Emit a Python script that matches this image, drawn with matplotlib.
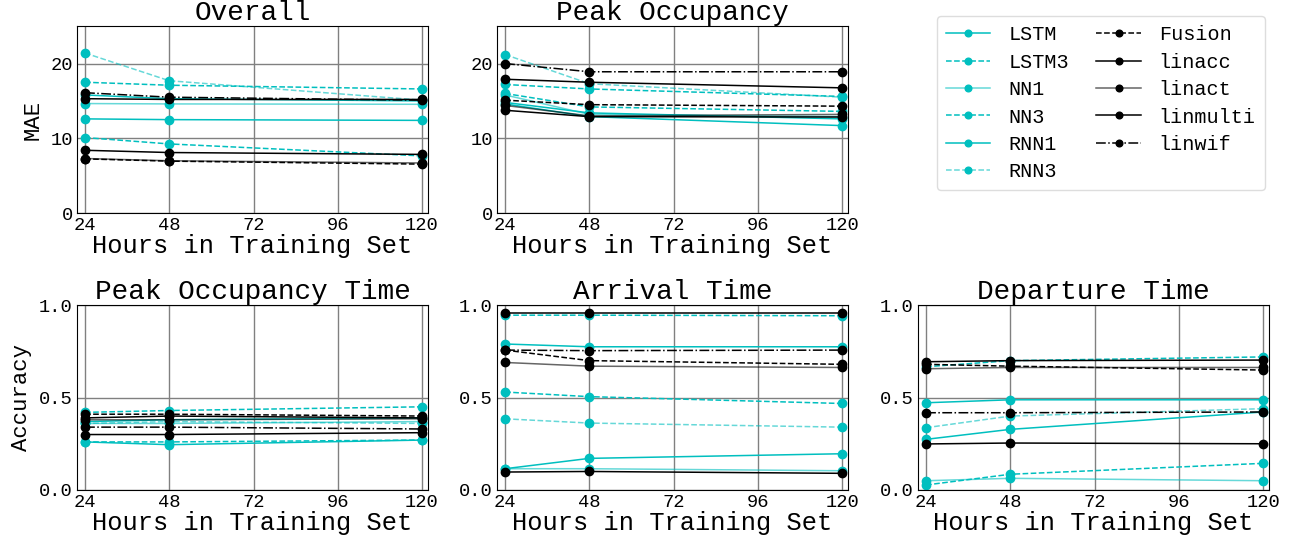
import matplotlib
matplotlib.use("Agg")
import matplotlib.pyplot as plt

plt.rcParams['font.family'] = ['Liberation Mono', 'DejaVu Sans Mono']

hours = [24, 48, 120]
series = ["LSTM", "LSTM3", "NN1", "NN3", "RNN1", "RNN3",
          "Fusion", "linacc", "linact", "linmulti", "linwif"]

# values per panel, one list per series (same order as `series`)
overall = [
    [15.8, 15.3, 15.0], [17.5, 17.1, 16.6], [14.65, 14.6, 14.55],
    [10.1, 9.25, 7.65], [12.6, 12.5, 12.4], [21.4, 17.7, 15.1],
    [7.25, 6.95, 6.55], [15.3, 15.2, 15.2], [7.3, 7.0, 6.7],
    [8.4, 8.1, 7.85], [16.1, 15.5, 15.1],
]
peak_occ = [
    [14.8, 13.4, 12.6], [17.2, 16.6, 15.6], [15.8, 13.2, 12.9],
    [16.0, 14.2, 13.6], [14.6, 12.9, 11.7], [21.2, 17.3, 15.5],
    [15.1, 14.5, 14.3], [17.9, 17.5, 16.75], [14.4, 13.0, 13.2],
    [13.75, 12.9, 12.85], [20.0, 18.9, 18.9],
]
peak_time = [
    [0.37, 0.38, 0.39], [0.42, 0.43, 0.45], [0.36, 0.36, 0.37],
    [0.26, 0.26, 0.27], [0.26, 0.245, 0.27], [0.36, 0.37, 0.36],
    [0.41, 0.41, 0.40], [0.39, 0.40, 0.39], [0.38, 0.38, 0.385],
    [0.30, 0.30, 0.31], [0.34, 0.34, 0.33],
]
arrival = [
    [0.79, 0.775, 0.775], [0.946, 0.946, 0.943], [0.115, 0.115, 0.104],
    [0.53, 0.505, 0.468], [0.115, 0.171, 0.196], [0.385, 0.362, 0.34],
    [0.757, 0.70, 0.68], [0.96, 0.96, 0.96], [0.69, 0.67, 0.663],
    [0.097, 0.10, 0.09], [0.757, 0.754, 0.757],
]
departure = [
    [0.472, 0.488, 0.488], [0.667, 0.70, 0.72], [0.05, 0.063, 0.05],
    [0.027, 0.085, 0.144], [0.274, 0.328, 0.422], [0.337, 0.40, 0.44],
    [0.68, 0.67, 0.649], [0.694, 0.70, 0.703], [0.656, 0.663, 0.663],
    [0.249, 0.254, 0.25], [0.418, 0.418, 0.422],
]

CY = (0.0, 0.75, 0.75)
styles = {
    "LSTM": (CY, 1.0, "-"), "LSTM3": (CY, 1.0, "--"), "NN1": (CY, 0.6, "-"),
    "NN3": (CY, 1.0, "--"), "RNN1": (CY, 1.0, "-"), "RNN3": (CY, 0.6, "--"),
    "Fusion": ((0, 0, 0), 1.0, "--"), "linacc": ((0, 0, 0), 1.0, "-"),
    "linact": ((0, 0, 0), 0.6, "-"), "linmulti": ((0, 0, 0), 1.0, "-"),
    "linwif": ((0, 0, 0), 1.0, "-."),
}

fig = plt.figure(figsize=(13.07, 5.45), dpi=100)
w, h_top, h_bot = 0.2686, 0.343, 0.339
panels = [
    ("Overall", overall, [0.0589, 0.609, w, h_top], "MAE"),
    ("Peak Occupancy", peak_occ, [0.3803, 0.609, w, h_top], None),
    ("Peak Occupancy Time", peak_time, [0.0589, 0.101, w, h_bot], "Accuracy"),
    ("Arrival Time", arrival, [0.3803, 0.101, w, h_bot], None),
    ("Departure Time", departure, [0.7024, 0.101, w, h_bot], None),
]

handles = []
for title, data, pos, ylabel in panels:
    ax = fig.add_axes(pos)
    hs = []
    for name, vals in zip(series, data):
        col, a, ls = styles[name]
        line, = ax.plot(hours, vals, ls=ls, color=col + (a,), lw=1.1,
                        marker="o", ms=6, mfc=col, mec=col, label=name)
        hs.append(line)
    handles = hs
    ax.set_title(title, fontsize=20, pad=1)
    ax.set_xlim(21.7, 121.7)
    ax.set_xticks([24, 48, 72, 96, 120])
    if ylabel == "MAE" or title == "Peak Occupancy":
        ax.set_ylim(0, 25)
        ax.set_yticks([0, 10, 20])
    else:
        ax.set_ylim(0, 1)
        ax.set_yticks([0.0, 0.5, 1.0])
    ax.set_xlabel("Hours in Training Set", fontsize=18.3, labelpad=0)
    if ylabel:
        ax.set_ylabel(ylabel, fontsize=16, labelpad=5)
    ax.tick_params(labelsize=13.5, length=0, pad=3)
    ax.grid(True, color="gray", lw=1)
    ax.set_axisbelow(True)

fig.legend(handles, series, ncol=2, loc="upper left",
           bbox_to_anchor=(927 / 1307, 1 - 6 / 545), fontsize=14.5,
           markerscale=0.8, handlelength=2.2, handletextpad=0.9,
           columnspacing=1.35, labelspacing=0.42, borderpad=0.45,
           framealpha=1, edgecolor="#dddddd", fancybox=True)

fig.savefig("out.png", dpi=100)
